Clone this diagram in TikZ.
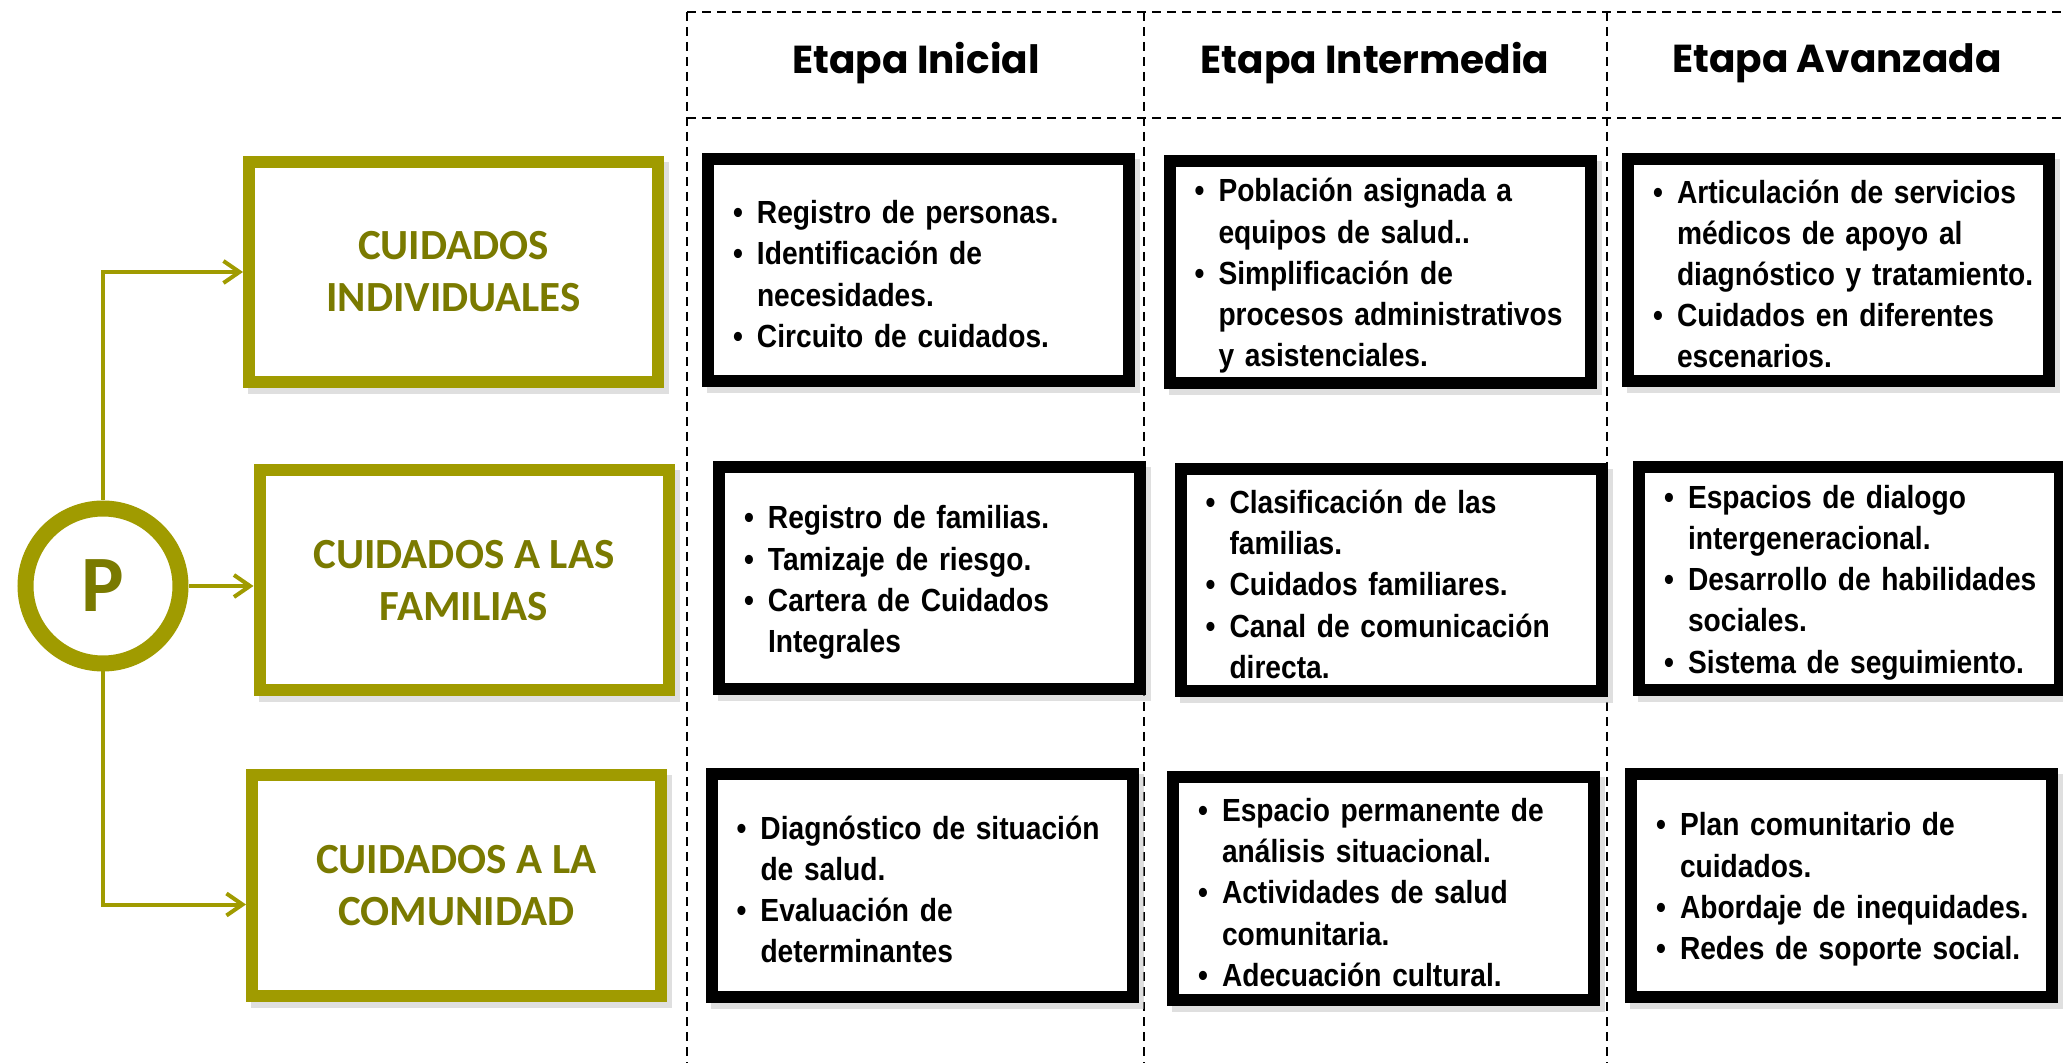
\documentclass[tikz,border=0pt]{standalone}
\usepackage{fontspec}
\setmainfont{Liberation Sans}
\newfontfamily\itemfont[FakeStretch=0.88]{Liberation Sans}
\newfontfamily\cuidfont{Carlito}
\newfontfamily\etapafont{Poppins}
\usetikzlibrary{arrows.meta,shadows}

\definecolor{olivebox}{RGB}{160,155,0}
\definecolor{olivetext}{RGB}{122,122,0}

% bullet line with hanging indent
\newcommand{\bul}{\par\leftskip=9.25pt\hangindent=12pt\hangafter=1\noindent\makebox[12pt][l]{\textbullet}}
\newcommand{\bulend}{\par\kern5pt}

\tikzset{
    etapa/.style={font=\etapafont\bfseries\fontsize{19.5}{22}\selectfont},
    cuidbox/.style={draw=olivebox, line width=6pt, fill=white,
        minimum width=204.5pt, minimum height=110pt, align=center, text=olivetext,
        font=\cuidfont\bfseries\fontsize{21.5}{26}\selectfont,
        drop shadow={shadow xshift=2.5pt, shadow yshift=-3pt, fill=black!25, draw=black!25, line width=6pt}},
    listbox/.style={draw=black, line width=6pt, fill=white,
        minimum height=111pt, text width=204pt, inner xsep=3.25pt, inner ysep=0pt, align=left,
        font=\itemfont\bfseries\fontsize{16}{20.6}\selectfont,
        drop shadow={shadow xshift=2.5pt, shadow yshift=-3pt, fill=black!25, draw=black!25, line width=6pt}},
    stagegrid/.style={line width=0.75pt, dash pattern=on 4.5pt off 3pt},
    link/.style={olivebox, line width=2pt, -{Straight Barb[length=8pt,width=11pt]}}
}

\begin{document}
\begin{tikzpicture}[x=0.5pt, y=-0.5pt]
    \useasboundingbox (0,0) rectangle (2063,1063);

    % stage grid
    \draw [stagegrid] (687,12) -- (2063,12);
    \draw [stagegrid] (687,118) -- (2063,118);
    \foreach \x in {687,1144,1607}
        \draw [stagegrid] (\x,12) -- (\x,1063);

    \node [etapa] (hini) at (916,63) {Etapa Inicial};
    \node [etapa] (hint) at (1375,63) {Etapa Intermedia};
    \node [etapa] (hava) at (1837,63) {Etapa Avanzada};

    % left side
    \node [circle, draw=olivebox, line width=8pt, fill=white, minimum size=77.5pt, inner sep=0pt,
           text=olivetext, font=\cuidfont\bfseries\fontsize{40}{42}\selectfont] (pcirc) at (103,586) {P};
    \node [cuidbox] (ind) at (453.5,272) {CUIDADOS\\INDIVIDUALES};
    \node [cuidbox] (fam) at (464,580.5) {CUIDADOS A LAS\\FAMILIAS};
    \node [cuidbox] (com) at (456.5,885.5) {CUIDADOS A LA\\COMUNIDAD};

    \draw [link] (pcirc.north) |- (ind.west);
    \draw [link] (pcirc.east) -- (pcirc.east -| fam.west);
    \draw [link] (pcirc.south) |- ([yshift=-9.5pt]com.west);

    % row 1
    \node [listbox] (ini1) at (918.5,270) {\bul Registro de personas.\bul Identificación de\newline necesidades.\bul Circuito de cuidados.\bulend};
    \node [listbox] (int1) at (1380,272) {\bul Población asignada a\newline equipos de salud..\bul Simplificación de\newline procesos administrativos\newline y asistenciales.\bulend};
    \node [listbox] (ava1) at (1838.5,270) {\bul Articulación de servicios\newline médicos de apoyo al\newline diagnóstico y tratamiento.\bul Cuidados en diferentes\newline escenarios.\bulend};
    % row 2
    \node [listbox] (ini2) at (929.5,578.5) {\bul Registro de familias.\bul Tamizaje de riesgo.\bul Cartera de Cuidados\newline Integrales\bulend};
    \node [listbox] (int2) at (1391,580.5) {\bul Clasificación de las\newline familias.\bul Cuidados familiares.\bul Canal de comunicación\newline directa.\bulend};
    \node [listbox] (ava2) at (1849.5,578.5) {\bul Espacios de dialogo\newline intergeneracional.\bul Desarrollo de habilidades\newline sociales.\bul Sistema de seguimiento.\bulend};
    % row 3
    \node [listbox] (ini3) at (922,885.5) {\bul Diagnóstico de situación\newline de salud.\bul Evaluación de\newline determinantes\bulend};
    \node [listbox] (int3) at (1383.5,888.5) {\bul Espacio permanente de\newline análisis situacional.\bul Actividades de salud\newline comunitaria.\bul Adecuación cultural.\bulend};
    \node [listbox] (ava3) at (1841.5,885.5) {\bul Plan comunitario de\newline cuidados.\bul Abordaje de inequidades.\bul Redes de soporte social.\bulend};
\end{tikzpicture}
\end{document}
